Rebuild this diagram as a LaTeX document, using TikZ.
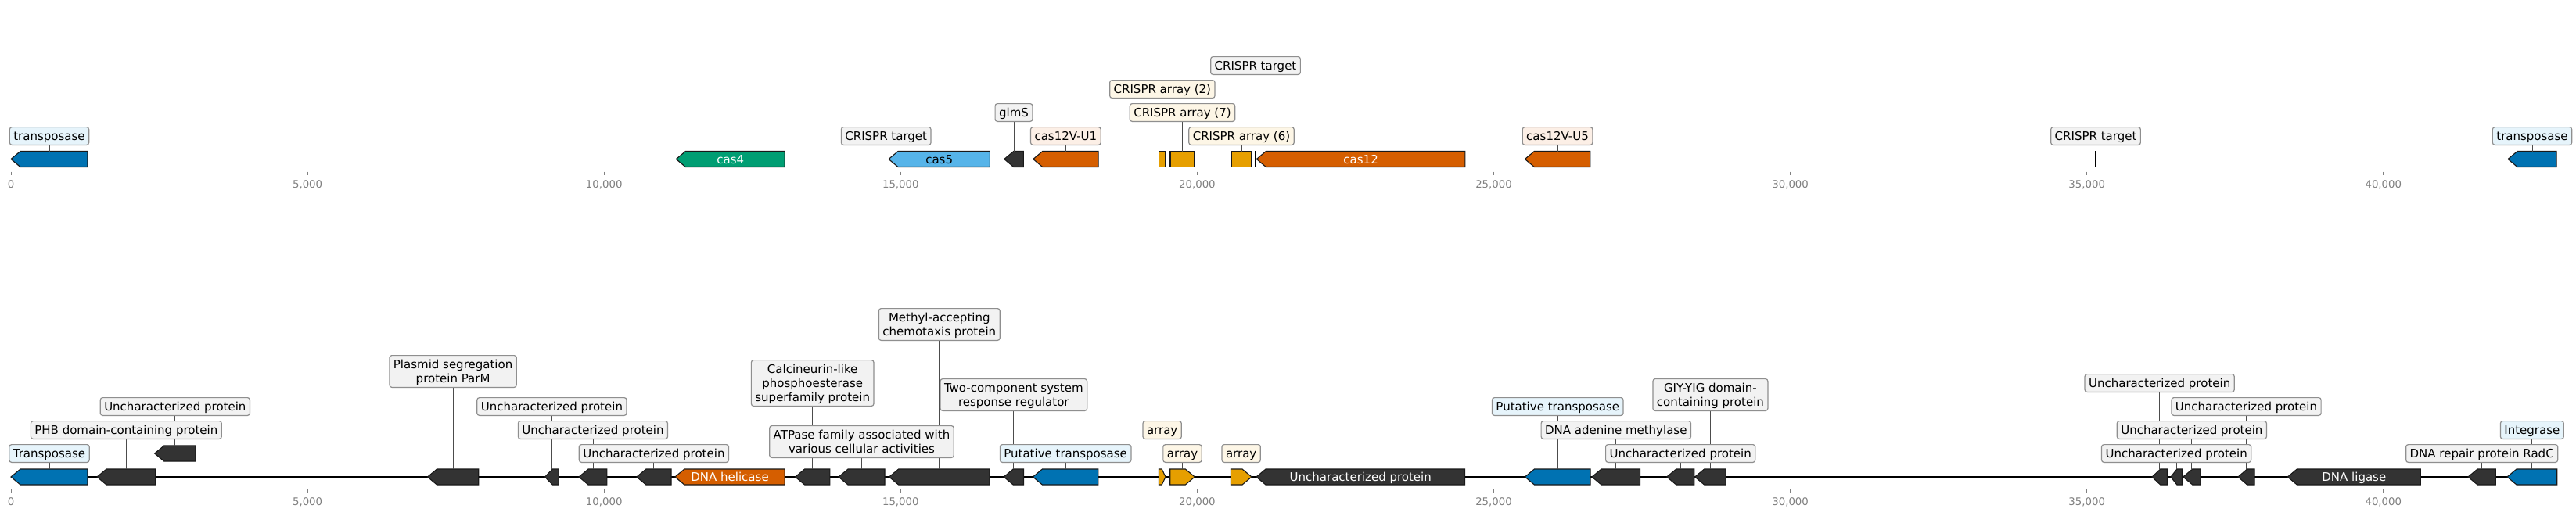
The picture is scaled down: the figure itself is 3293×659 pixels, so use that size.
\documentclass[tikz,border=0pt]{standalone}
\usepackage{fontspec}
\setmainfont{DejaVu Sans}
\usetikzlibrary{calc}
\definecolor{cblue}{HTML}{0072B2}
\definecolor{cgreen}{HTML}{009E73}
\definecolor{csky}{HTML}{56B4E9}
\definecolor{cdark}{HTML}{333333}
\definecolor{corange}{HTML}{D55E00}
\definecolor{cyellow}{HTML}{E69F00}
\definecolor{lblue}{HTML}{E6F4FB}
\definecolor{lorange}{HTML}{FCEFE6}
\definecolor{lyellow}{HTML}{FDF6E6}
\definecolor{lgray}{HTML}{F2F2F2}
\definecolor{lborder}{HTML}{8F8F8F}
\definecolor{ticktext}{HTML}{808080}
\newcommand\lstrut{\rule[-3.6pt]{0pt}{17.6pt}}
\newcommand\geneleft[5]{%
  \pgfmathsetmacro\hl{min(12,0.55*(#3-#2))}%
  \draw[gene,fill=#5] (#2,#4) -- (#2+\hl,#4-10) -- (#3,#4-10) -- (#3,#4+10) -- (#2+\hl,#4+10) -- cycle;
  \coordinate (#1) at ({(#2+#3)/2},#4-10);
  \coordinate (#1c) at ({(#2+#3)/2},#4);
}
\newcommand\generight[5]{%
  \pgfmathsetmacro\hl{min(12,0.55*(#3-#2))}%
  \draw[gene,fill=#5] (#2,#4-10) -- (#3-\hl,#4-10) -- (#3,#4) -- (#3-\hl,#4+10) -- (#2,#4+10) -- cycle;
  \coordinate (#1) at ({(#2+#3)/2},#4-10);
  \coordinate (#1c) at ({(#2+#3)/2},#4);
}
\newcommand\generect[5]{%
  \draw[gene,fill=#5] (#2,#4-10) rectangle (#3,#4+10);
  \coordinate (#1) at ({(#2+#3)/2},#4-10);
  \coordinate (#1c) at ({(#2+#3)/2},#4);
}
\newcommand\crmark[2]{%
  \draw[crisprmark] (#2,193) -- (#2,214);
  \coordinate (#1) at (#2,193);
}
\newcommand\gtxt[4]{%
  \node[gtext,text=#3] (#1) at ($(#2)+(0,5.5)$) {#4};
}
% single-line labels: name/gene/y/fill/text
\def\singlelabels{%
lT1/gT1/174/lblue/{transposase},
lT3/gT3/174/lgray/{CRISPR target},
lT5/gT5/144/lgray/{glmS},
lT6/gT6/174/lorange/{cas12V-U1},
lT7/gT7/114/lyellow/{CRISPR array (2)},
lT8/gT8/144/lyellow/{CRISPR array (7)},
lT9/gT9/174/lyellow/{CRISPR array (6)},
lT10/gT10/84/lgray/{CRISPR target},
lT12/gT12/174/lorange/{cas12V-U5},
lT13/gT13/174/lgray/{CRISPR target},
lT14/gT14/174/lblue/{transposase},
lB1/gB1/580/lblue/{Transposase~},
lB2/gB2/550/lgray/{PHB domain-containing protein~},
lB3/gB3/520/lgray/{Uncharacterized protein~},
lB5/gB5/520/lgray/{Uncharacterized protein~},
lB6/gB6/550/lgray/{Uncharacterized protein~},
lB7/gB7/580/lgray/{Uncharacterized protein~},
lB13/gB13/580/lblue/{Putative transposase~},
lB14/gB14/550/lyellow/{array},
lB15/gB15/580/lyellow/{array},
lB16/gB16/580/lyellow/{array},
lB18/gB18/520/lblue/{Putative transposase~},
lB19/gB19/550/lgray/{DNA adenine methylase~},
lB20/gB20/580/lgray/{Uncharacterized protein~},
lB22/gB22/490/lgray/{Uncharacterized protein~},
lB23/gB23/580/lgray/{Uncharacterized protein~},
lB24/gB24/550/lgray/{Uncharacterized protein~},
lB25/gB25/520/lgray/{Uncharacterized protein~},
lB27/gB27/580/lgray/{DNA repair protein RadC~},
lB28/gB28/550/lblue/{Integrase~}}
\def\multilabels{%
lB4/gB4/475/lgray/{Plasmid segregation\\protein ParM},
lB9/gB9/490/lgray/{Calcineurin-like\\phosphoesterase\\superfamily protein},
lB10/gB10/565/lgray/{ATPase family associated with\\various cellular activities},
lB11/gB11/415/lgray/{Methyl-accepting\\chemotaxis protein},
lB12/gB12/505/lgray/{Two-component system\\response regulator},
lB21/gB21/505/lgray/{GIY-YIG domain-\\containing protein}}
\begin{document}
\begin{tikzpicture}[x=1pt,y=-1pt,
  gene/.style={draw=black!90, line width=1.1pt, line join=miter},
  lbl/.style={draw=lborder, line width=1.2pt, rounded corners=3pt, inner xsep=5pt, inner ysep=2.6pt, font=\fontsize{15}{18}\selectfont, text height=14pt, text depth=3.6pt},
  lblm/.style={draw=lborder, line width=1.2pt, rounded corners=3pt, inner xsep=5pt, inner ysep=2.6pt, font=\fontsize{15}{18}\selectfont, align=center},
  conn/.style={draw=black!70, line width=0.9pt},
  track/.style={line width=1.8pt, black},
  gtext/.style={font=\fontsize{15}{18}\selectfont, inner sep=0pt, anchor=base},
  tickmark/.style={draw=ticktext, line width=1pt},
  ticklab/.style={font=\fontsize{13.3}{16}\selectfont, text=ticktext, inner sep=0pt, anchor=base},
  crisprmark/.style={line width=1.3pt, black}
]
\fill[white] (0,0) rectangle (3293,659);
\useasboundingbox (0,0) rectangle (3293,659);

% tracks
\coordinate (tA) at (14,203.5); \coordinate (tB) at (3268,203.5);
\coordinate (bA) at (14,610); \coordinate (bB) at (3268.7,610);
\draw[track] (tA) -- (tB);
\draw[track] (bA) -- (bB);

% ticks
\foreach \k/\t in {0/0,1/{5,000},2/{10,000},3/{15,000},4/{20,000},5/{25,000},6/{30,000},7/{35,000},8/{40,000}}{
  \draw[tickmark] (14+379.1*\k,219.5) -- (14+379.1*\k,224);
  \node[ticklab] (tkT\k) at (14+379.1*\k,240.8) {\t};
  \draw[tickmark] (14+379.1*\k,625.5) -- (14+379.1*\k,630);
  \node[ticklab] (tkB\k) at (14+379.1*\k,646.5) {\t};
}

% ---------------- top track ----------------
\geneleft{gT1}{14}{112}{203.5}{cblue}
\geneleft{gT2}{864.3}{1003.2}{203.5}{cgreen}
\gtxt{xT2}{gT2c}{white}{cas4}
\geneleft{gT4}{1136}{1265.3}{203.5}{csky}
\gtxt{xT4}{gT4c}{black}{cas5}
\geneleft{gT5}{1283.7}{1308.3}{203.5}{cdark}
\geneleft{gT6}{1320.7}{1404}{203.5}{corange}
\generect{gT7}{1481.7}{1490}{203.5}{cyellow}
\generect{gT8}{1496}{1527}{203.5}{cyellow}
\generect{gT9}{1574}{1600}{203.5}{cyellow}
\geneleft{gT11}{1606.3}{1872.9}{203.5}{corange}
\gtxt{xT11}{gT11c}{white}{cas12}
\geneleft{gT12}{1949.3}{2032.8}{203.5}{corange}
\geneleft{gT14}{3206}{3268}{203.5}{cblue}
\crmark{gT3}{1132.7}
\crmark{gT10}{1605}
\crmark{gT13}{2679}

% ---------------- bottom track ----------------
\geneleft{gB1}{14}{112}{610}{cblue}
\geneleft{gB2}{124}{198.7}{610}{cdark}
\geneleft{gB3}{197.7}{250}{580}{cdark}
\geneleft{gB4}{546.5}{611.7}{610}{cdark}
\geneleft{gB5}{696.6}{714.2}{610}{cdark}
\geneleft{gB6}{740}{775.9}{610}{cdark}
\geneleft{gB7}{813.8}{858}{610}{cdark}
\geneleft{gB8}{862.9}{1003.2}{610}{corange}
\gtxt{xB8}{gB8c}{white}{DNA helicase}
\geneleft{gB9}{1016.6}{1060.8}{610}{cdark}
\geneleft{gB10}{1072}{1131}{610}{cdark}
\geneleft{gB11}{1136.6}{1265}{610}{cdark}
\geneleft{gB12}{1283.2}{1308.5}{610}{cdark}
\geneleft{gB13}{1320.4}{1403.9}{610}{cblue}
\generight{gB14}{1481.3}{1490}{610}{cyellow}
\generight{gB15}{1495.7}{1527.3}{610}{cyellow}
\generight{gB16}{1573.3}{1600}{610}{cyellow}
\geneleft{gB17}{1606}{1872.5}{610}{cdark}
\gtxt{xB17}{gB17c}{white}{Uncharacterized protein}
\geneleft{gB18}{1949.4}{2033.1}{610}{cblue}
\geneleft{gB19}{2035}{2096.6}{610}{cdark}
\geneleft{gB20}{2130.7}{2165.7}{610}{cdark}
\geneleft{gB21}{2166.6}{2206.2}{610}{cdark}
\geneleft{gB22}{2751}{2770.3}{610}{cdark}
\geneleft{gB23}{2775}{2789.3}{610}{cdark}
\geneleft{gB24}{2790.7}{2813}{610}{cdark}
\geneleft{gB25}{2861}{2882}{610}{cdark}
\geneleft{gB26}{2924.3}{3094.3}{610}{cdark}
\gtxt{xB26}{gB26c}{white}{DNA ligase}
\geneleft{gB27}{3155}{3190.3}{610}{cdark}
\geneleft{gB28}{3205}{3268.7}{610}{cblue}

% ---------------- connectors (drawn first, boxes cover them) ----------------
\foreach \n/\g/\y/\f/\t in \singlelabels {
  \coordinate (\n-p) at (\g |- 0,\y);
  \draw[conn] (\g) -- (\n-p);
}
\foreach \n/\g/\y/\f/\t in \multilabels {
  \coordinate (\n-p) at (\g |- 0,\y);
  \draw[conn] (\g) -- (\n-p);
}
% ---------------- label boxes ----------------
\foreach \n/\g/\y/\f/\t in \singlelabels {
  \node[lbl,fill=\f] (\n) at (\n-p) {\t};
}
\foreach \n/\g/\y/\f/\t in \multilabels {
  \node[lblm,fill=\f] (\n) at (\n-p) {\lstrut\t\lstrut};
}
\end{tikzpicture}
\end{document}
